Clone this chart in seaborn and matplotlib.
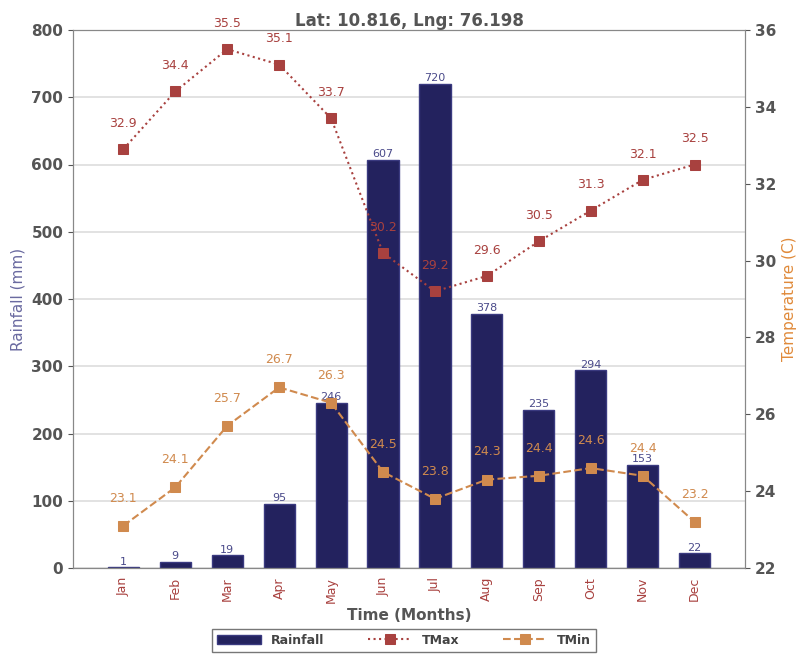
import matplotlib
matplotlib.use("Agg")
import matplotlib.pyplot as plt
import seaborn as sns
import pandas as pd
import numpy as np

months = ["Jan", "Feb", "Mar", "Apr", "May", "Jun", "Jul", "Aug", "Sep", "Oct", "Nov", "Dec"]
rainfall = [1, 9, 19, 95, 246, 607, 720, 378, 235, 294, 153, 22]
tmax = [32.9, 34.4, 35.5, 35.1, 33.7, 30.2, 29.2, 29.6, 30.5, 31.3, 32.1, 32.5]
tmin = [23.1, 24.1, 25.7, 26.7, 26.3, 24.5, 23.8, 24.3, 24.4, 24.6, 24.4, 23.2]

bar_color = "#23225e"
tmax_color = "#a8413f"
tmin_color = "#d08a4e"
text_gray = "#555555"

sns.set_style("white")
plt.rcParams['font.family'] = ['DejaVu Sans']

df = pd.DataFrame({"Month": months, "Rainfall": rainfall, "TMax": tmax, "TMin": tmin})
df["x"] = np.arange(len(months))

fig = plt.figure(figsize=(7.98, 6.56), dpi=100)
ax = fig.add_axes([73/798, 1 - 568/656, (745-73)/798, (568-30)/656])

sns.barplot(data=df, x="Month", y="Rainfall", color=bar_color, width=0.6,
            saturation=1, ax=ax, label="Rainfall", edgecolor="#3a3a80", linewidth=1)
if ax.get_legend() is not None:
    ax.get_legend().remove()
for i, v in enumerate(rainfall):
    ax.text(i, v + 1, f"{v}", ha="center", va="bottom", fontsize=8, color="#4a4a8a")

ax.set_ylim(0, 800)
ax.set_xlim(-0.97, 11.97)
ax.set_yticks(range(0, 801, 100))
ax.yaxis.grid(True, color="#dddddd", linewidth=1.2)
ax.set_axisbelow(True)
ax.set_ylabel("Rainfall (mm)", color="#6a6aa0", fontsize=11)
ax.set_xlabel("Time (Months)", color=text_gray, fontsize=11, fontweight="bold")
ax.set_title("Lat: 10.816, Lng: 76.198", color=text_gray, fontsize=12, fontweight="bold", pad=2)
ax.tick_params(axis="y", colors=text_gray, labelsize=11)
ax.tick_params(axis="x", rotation=90, labelsize=9, labelcolor=tmax_color, length=3)
for lab in ax.get_yticklabels():
    lab.set_fontweight("bold")
for s in ax.spines.values():
    s.set_color("#888888")

ax2 = ax.twinx()
sns.lineplot(data=df, x="x", y="TMax", ax=ax2, color=tmax_color, linestyle=":", marker="s",
             markersize=7, markeredgecolor=tmax_color, label="TMax", legend=False)
sns.lineplot(data=df, x="x", y="TMin", ax=ax2, color=tmin_color, linestyle="--", marker="s",
             markersize=7, markeredgecolor=tmin_color, label="TMin", legend=False)
for i, v in enumerate(tmax):
    ax2.text(i, v + 0.5, f"{v}", ha="center", va="bottom", fontsize=9, color=tmax_color)
for i, v in enumerate(tmin):
    ax2.text(i, v + 0.55, f"{v}", ha="center", va="bottom", fontsize=9, color=tmin_color)
ax2.set_ylim(22, 36)
ax2.set_yticks(range(22, 37, 2))
ax2.set_xlim(-0.97, 11.97)
ax2.set_ylabel("Temperature (C)", color="#e08a3a", fontsize=11)
ax2.tick_params(axis="y", colors=text_gray, labelsize=11)
for lab in ax2.get_yticklabels():
    lab.set_fontweight("bold")
for s in ax2.spines.values():
    s.set_color("#888888")

h1, l1 = ax.get_legend_handles_labels()
h2, l2 = ax2.get_legend_handles_labels()
leg = fig.legend(h1 + h2, l1 + l2, loc="center", bbox_to_anchor=(404/798, 1 - 640/656), ncol=3,
                 fontsize=9, frameon=True, edgecolor="#555555", fancybox=False,
                 handlelength=3.5, columnspacing=3.5)
for t in leg.get_texts():
    t.set_color("#444444")
    t.set_fontweight("bold")

fig.savefig("out.png", dpi=100)
